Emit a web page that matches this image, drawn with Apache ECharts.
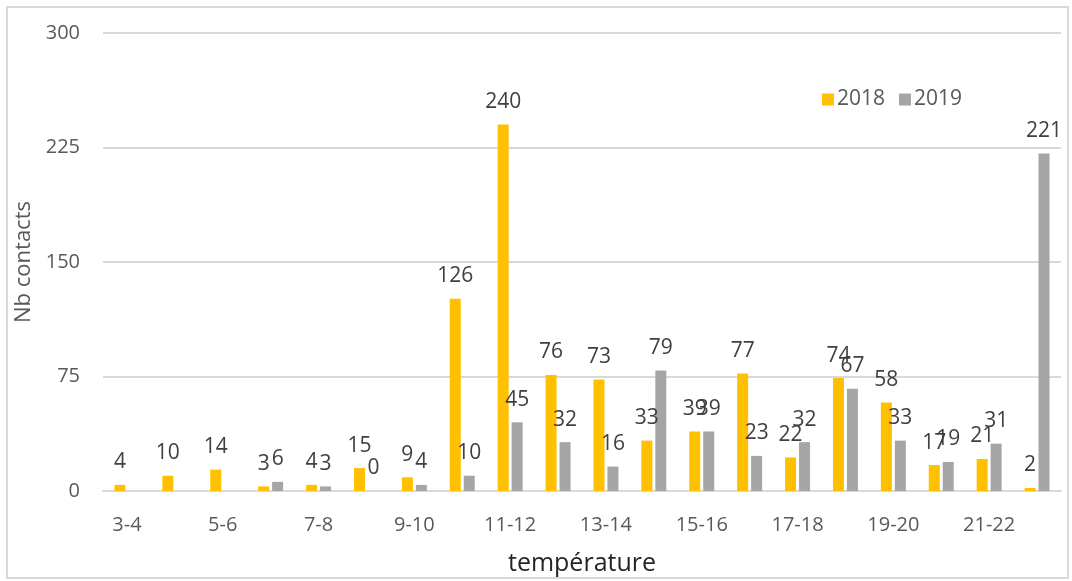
<!DOCTYPE html>
<html>
<head>
<meta charset="utf-8">
<script src="https://cdn.jsdelivr.net/npm/echarts@6/dist/echarts.min.js"></script>
<style>
html,body{margin:0;padding:0;background:#fff;}
#c{width:1072px;height:581px;}
</style>
</head>
<body>
<div id="c"></div>
<script>
const categories = ['3-4','4-5','5-6','6-7','7-8','8-9','9-10','10-11','11-12','12-13','13-14','14-15','15-16','16-17','17-18','18-19','19-20','20-21','21-22','22-23'];
const values2018 = [4,10,14,3,4,15,9,126,240,76,73,33,39,77,22,74,58,17,21,2];
const values2019 = [null,null,null,6,3,0,4,10,45,32,16,79,39,23,32,67,33,19,31,221];
const yTicks = [0,75,150,225,300];

const FONT = 'Open Sans';
const chart = echarts.init(document.getElementById('c'));
const labelCfg = {show:true, position:'top', distance:12, color:'#404040', fontSize:21, fontFamily:FONT};
chart.setOption({
  animation:false,
  backgroundColor:'#fff',
  graphic:[{type:'rect', shape:{x:7,y:7,width:1061,height:571}, style:{fill:'none', stroke:'#d9d9d9', lineWidth:2}, silent:true}],
  legend:{
    data:['2018','2019'], right:105, top:84, itemWidth:12, itemHeight:12, itemGap:14,
    icon:'rect', textStyle:{color:'#595959', fontSize:21, fontFamily:FONT, padding:[0,0,0,-2]}
  },
  grid:{left:103, right:11, top:33, bottom:90, containLabel:false, outerBoundsMode:'none'},
  xAxis:{
    type:'category', data:categories,
    name:'température', nameLocation:'middle', nameGap:60,
    nameTextStyle:{color:'#262626', fontSize:25, fontFamily:FONT},
    axisLine:{lineStyle:{color:'#d9d9d9', width:2}},
    axisTick:{show:false},
    axisLabel:{interval:1, color:'#595959', fontSize:20, fontFamily:FONT, margin:24}
  },
  yAxis:{
    type:'value', min:yTicks[0], max:yTicks[yTicks.length-1], interval:75,
    name:'Nb contacts', nameLocation:'middle', nameGap:61, nameRotate:90,
    nameTextStyle:{color:'#595959', fontSize:22, fontFamily:FONT},
    axisLine:{show:false}, axisTick:{show:false},
    axisLabel:{color:'#595959', fontSize:20, fontFamily:FONT, margin:23},
    splitLine:{lineStyle:{color:'#d9d9d9', width:2}}
  },
  series:[
    {name:'2018', type:'bar', data:values2018, barWidth:11, barGap:'27%', itemStyle:{color:'#FFC000'}, label:labelCfg},
    {name:'2019', type:'bar', data:values2019, barWidth:11, itemStyle:{color:'#A5A5A5'}, label:labelCfg}
  ]
});
</script>
</body>
</html>
